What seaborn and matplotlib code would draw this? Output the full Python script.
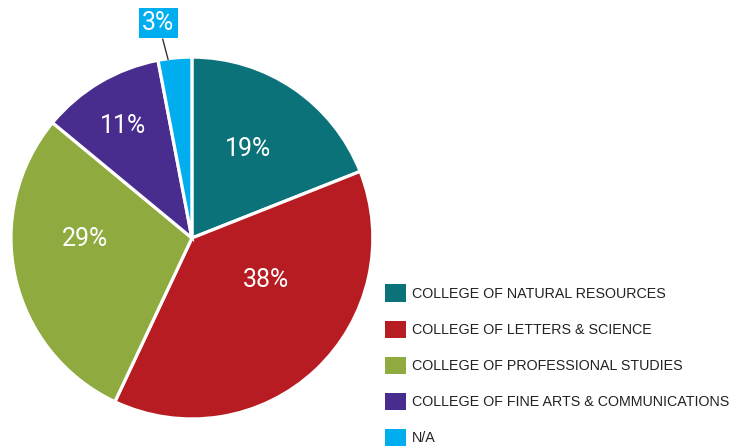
import numpy as np
import seaborn as sns
import matplotlib.pyplot as plt
from matplotlib.patches import Patch

colleges = [
    "COLLEGE OF NATURAL RESOURCES",
    "COLLEGE OF LETTERS & SCIENCE",
    "COLLEGE OF PROFESSIONAL STUDIES",
    "COLLEGE OF FINE ARTS & COMMUNICATIONS",
    "N/A",
]
shares = [19, 38, 29, 11, 3]
hex_colors = ["#0B7279", "#B71C22", "#8FAB3F", "#482D8F", "#00AEEF"]

sns.set_theme(style="white")
plt.rcParams["font.family"] = ["Liberation Sans", "DejaVu Sans"]
palette = sns.color_palette(hex_colors)

fig = plt.figure(figsize=(7.37, 4.48), dpi=100)
ax = fig.add_axes([0.0149, 0.0647, 0.491, 0.808])

wedges, _ = ax.pie(
    shares,
    colors=palette,
    startangle=90,
    counterclock=False,
    wedgeprops=dict(edgecolor="white", linewidth=2.3),
)
ax.set_xlim(-1.0, 1.0)
ax.set_ylim(-1.0, 1.0)
ax.set_aspect("equal")

# label placement: radius fraction and angle shift (degrees) per wedge
label_r = [0.58, 0.47, 0.59, 0.73]
label_shift = [2, 17, -12, 1]
for w, s, r, d in zip(wedges[:4], shares[:4], label_r, label_shift):
    ang = np.deg2rad((w.theta1 + w.theta2) / 2 + d)
    ax.text(r * np.cos(ang), r * np.sin(ang), f"{s}%", color="white",
            fontsize=18, ha="center", va="center",
            family=["Roboto", "DejaVu Sans"])

# small slice: callout above the pie
w = wedges[4]
ang = np.deg2rad((w.theta1 + w.theta2) / 2 + 2.2)
ax.annotate(
    f"{shares[4]}%",
    xy=(0.995 * np.cos(ang), 0.995 * np.sin(ang)),
    xytext=(-0.185, 1.19),
    ha="center", va="center", color="white", fontsize=18,
    family=["Roboto", "DejaVu Sans"],
    bbox=dict(boxstyle="square,pad=0.12", fc=hex_colors[4], ec="none"),
    arrowprops=dict(arrowstyle="-", color="#333333", lw=1.0,
                    shrinkA=1, shrinkB=0),
    annotation_clip=False,
)

handles = [Patch(facecolor=c, edgecolor="none") for c in palette]
fig.legend(
    handles, colleges,
    loc="upper left", bbox_to_anchor=(0.515, 0.378),
    frameon=False, fontsize=10.3, labelcolor="#222222",
    handlelength=1.47, handleheight=1.47, handletextpad=0.4,
    labelspacing=1.33, borderaxespad=0,
)

fig.savefig("out.png", dpi=100)
